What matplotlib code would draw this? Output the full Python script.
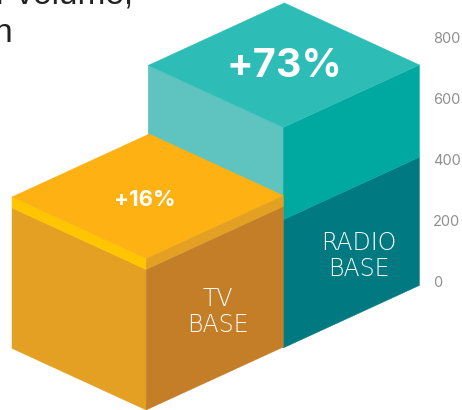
import matplotlib
matplotlib.use('Agg')
import matplotlib.pyplot as plt
from matplotlib.patches import Polygon

# stacked block heights on the value axis
radio_base = 420
radio_growth = 302
tv_base = 460
tv_growth = 36
axis_ticks = [0, 200, 400, 600, 800]
radio_labels = ['RADIO', 'BASE']
tv_labels = ['TV', 'BASE']
radio_change = '+73%'
tv_change = '+16%'

W, H = 462, 410
PX_PER_UNIT = 61 / 200
ZERO_PX = 281
SLOPE = 0.459 / PX_PER_UNIT  # value units per horizontal pixel along the iso edges

fig = plt.figure(figsize=((W + 0.5) / 100, (H + 0.5) / 100), dpi=100)
ax = fig.add_axes([0, 0, 1, 1])
ax.set_xlim(0, W)
ax.set_ylim((ZERO_PX - H) / PX_PER_UNIT, ZERO_PX / PX_PER_UNIT)
for s in ax.spines.values():
    s.set_visible(False)


def face(x0, v0, x1, height, color, z):
    # parallelogram running from the front edge x0 out to x1
    rise = SLOPE * abs(x1 - x0)
    pts = [(x0, v0), (x1, v0 + rise), (x1, v0 + rise + height), (x0, v0 + height)]
    ax.add_patch(Polygon(pts, closed=True, fc=color, ec=color, lw=0.3, zorder=z))


def top(x0, v0, xl, xr, color, z):
    rl = SLOPE * (x0 - xl)
    rr = SLOPE * (xr - x0)
    pts = [(x0, v0), (xr, v0 + rr), (xr + xl - x0, v0 + rl + rr), (xl, v0 + rl)]
    ax.add_patch(Polygon(pts, closed=True, fc=color, ec=color, lw=0.3, zorder=z))


# radio block, back
rx, rl, rr = 283, 148, 419
rb = (ZERO_PX - 348) / PX_PER_UNIT
face(rx, rb, rl, radio_base, '#5fc4c0', 1)
face(rx, rb + radio_base, rl, radio_growth, '#5fc4c0', 1)
face(rx, rb, rr, radio_base, '#007a80', 1)
face(rx, rb + radio_base, rr, radio_growth, '#00a9a0', 1)
top(rx, rb + radio_base + radio_growth, rl, rr, '#2dbdb6', 2)

# tv block, in front
tx, tl, tr = 146, 12, 283
tb = (ZERO_PX - 410) / PX_PER_UNIT
face(tx, tb, tl, tv_base, '#e3a022', 3)
face(tx, tb + tv_base, tl, tv_growth, '#ffc600', 3)
face(tx, tb, tr, tv_base, '#c47e28', 3)
face(tx, tb + tv_base, tr, tv_growth, '#e4a023', 3)
top(tx, tb + tv_base + tv_growth, tl, tr, '#fdb113', 4)


def val(py):
    return (ZERO_PX - py) / PX_PER_UNIT


bold_font = ['Inter', 'DejaVu Sans']
ax.text(284, val(66), radio_change, color='white', fontsize=28.5, fontweight='bold',
        family=bold_font, ha='center', va='center', zorder=6)
ax.text(145, val(200), tv_change, color='white', fontsize=16, fontweight='bold',
        family=bold_font, ha='center', va='center', zorder=6)
name_font = ['DejaVu Sans']
ax.text(358.5, val(243), radio_labels[0], color='white', fontsize=17,
        family=name_font, fontweight='light', ha='center', va='center', zorder=6)
ax.text(358.5, val(269), radio_labels[1], color='white', fontsize=17,
        family=name_font, fontweight='light', ha='center', va='center', zorder=6)
ax.text(218, val(299), tv_labels[0], color='white', fontsize=17,
        family=name_font, fontweight='light', ha='center', va='center', zorder=6)
ax.text(218, val(325), tv_labels[1], color='white', fontsize=17,
        family=name_font, fontweight='light', ha='center', va='center', zorder=6)

# value axis, labels only
ax.yaxis.tick_right()
ax.set_yticks(axis_ticks)
ax.set_xticks([])
ax.tick_params(axis='y', length=0, pad=-21, labelsize=10.5, labelcolor='#8f8f8f')
for t in ax.get_yticklabels():
    t.set_family(bold_font)

# caption running off the top edge
ax.text(133, val(3), 'r volume,', color='#222222', fontsize=24, family='Liberation Sans',
        ha='right', va='baseline', zorder=6)
ax.text(12, val(42), 'n', color='#222222', fontsize=24, family='Liberation Sans',
        ha='right', va='baseline', zorder=6)

fig.savefig('out.png', dpi=100)
